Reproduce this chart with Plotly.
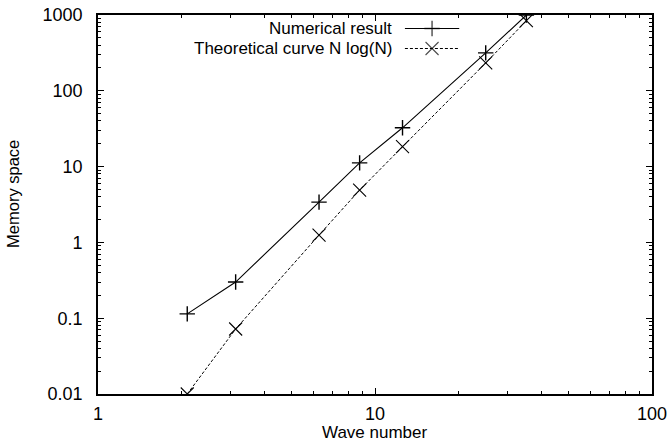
import plotly.graph_objects as go

# Wave numbers and memory usage
wave_number = [2.1, 3.14, 6.28, 8.8, 12.57, 25.1, 35.2]
numerical_memory = [0.114, 0.30, 3.4, 11.2, 32.5, 316, 1000]
theoretical_memory = [0.01, 0.072, 1.25, 4.9, 18.3, 233, 841]

series_names = ["Numerical result", "Theoretical curve N log(N)"]
y_tick_vals = [0.01, 0.1, 1, 10, 100, 1000]
y_tick_text = ["0.01", "0.1", "1", "10", "100", "1000"]
x_tick_vals = [1, 10, 100]
x_tick_text = ["1", "10", "100"]

FONT = "Liberation Sans, Arial, sans-serif"
FS = 18

num_line = dict(color="black", width=1.1)
num_marker = dict(symbol="cross-thin", size=11, color="black",
                  line=dict(color="black", width=1.4))
th_line = dict(color="black", width=1.0, dash="3px,2px")
th_marker = dict(symbol="x-thin", size=13, color="black",
                 line=dict(color="black", width=1.1))

fig = go.Figure()

fig.add_trace(go.Scatter(
    x=wave_number, y=numerical_memory, mode="lines+markers",
    line=num_line, marker=num_marker, showlegend=False,
))
fig.add_trace(go.Scatter(
    x=wave_number, y=theoretical_memory, mode="lines+markers",
    line=th_line, marker=th_marker, showlegend=False,
))

# Key in the upper part of the frame: text on the left, sample on the right
key_rows = [0.9643, 0.9116]
for name, yk, ln, mk in zip(series_names, key_rows,
                            [num_line, th_line], [num_marker, th_marker]):
    mk = dict(mk, size=[0, mk["size"], 0])
    fig.add_trace(go.Scatter(
        x=[0.554, 0.603, 0.652], y=[yk] * 3, xaxis="x2", yaxis="y2",
        mode="lines+markers", line=ln, marker=mk, showlegend=False,
        hoverinfo="skip",
    ))
    fig.add_annotation(
        text=name, xref="paper", yref="paper", x=0.5325, y=yk,
        xanchor="right", yanchor="middle", showarrow=False, borderpad=0,
        font=dict(family=FONT, size=17, color="black"),
    )

# Axis titles
fig.add_annotation(
    text="Wave number", xref="paper", yref="paper", x=0.5, y=-0.1029,
    xanchor="center", yanchor="middle", showarrow=False, borderpad=0,
    font=dict(family=FONT, size=17, color="black"),
)
fig.add_annotation(
    text="Memory space", xref="paper", yref="paper", x=-0.1534, y=0.528,
    xanchor="center", yanchor="middle", textangle=-90, showarrow=False,
    font=dict(family=FONT, size=16.5, color="black"),
)

axis_common = dict(
    showgrid=False, zeroline=False, showline=True, linecolor="black",
    linewidth=1.6, mirror="ticks", ticks="inside", ticklen=6,
    tickwidth=1.2, tickcolor="black", automargin=False,
    tickfont=dict(family=FONT, size=FS, color="black"),
    minor=dict(ticks="inside", ticklen=3, tickwidth=1, tickcolor="black",
               dtick="D1", showgrid=False),
)

fig.update_layout(
    width=671, height=442,
    margin=dict(l=98, r=19, t=15, b=48),
    paper_bgcolor="white", plot_bgcolor="white",
    font=dict(family=FONT, size=FS, color="black"),
    xaxis=dict(type="log", range=[0, 2], tickvals=x_tick_vals,
               ticktext=x_tick_text, ticklabelstandoff=3, **axis_common),
    yaxis=dict(type="log", range=[-2, 3], tickvals=y_tick_vals,
               ticktext=y_tick_text, ticklabelstandoff=10, **axis_common),
    xaxis2=dict(range=[0, 1], overlaying="x", visible=False),
    yaxis2=dict(range=[0, 1], overlaying="y", visible=False),
)

fig.write_html("out.html")
